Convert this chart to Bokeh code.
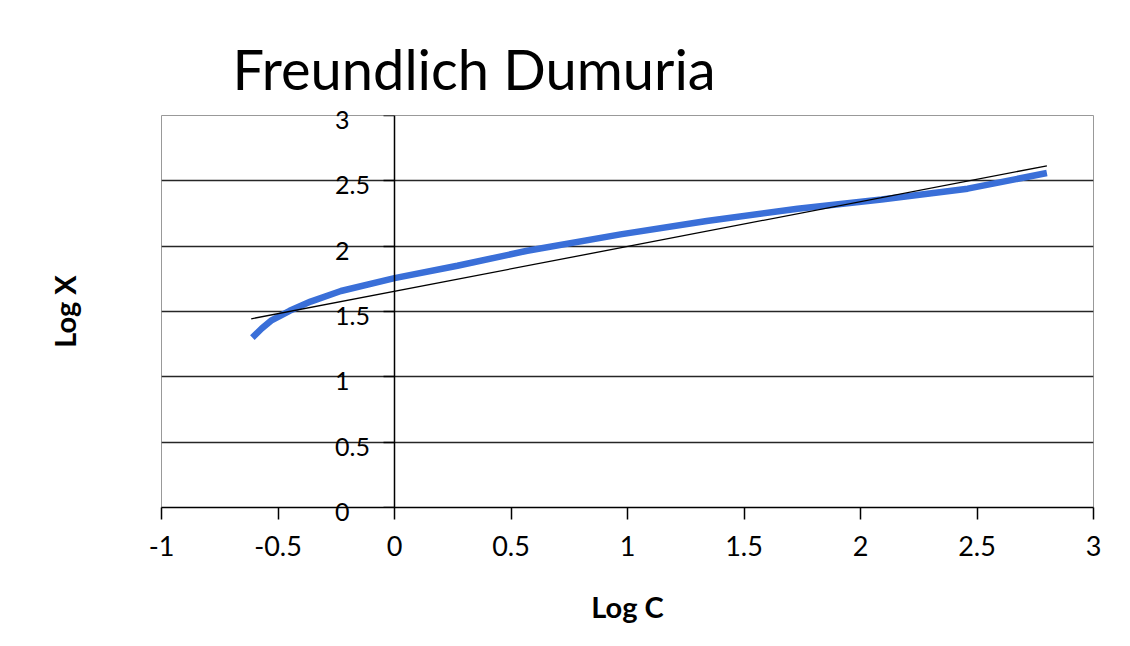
from bokeh.plotting import figure
from bokeh.models import LinearAxis, FixedTicker, Range1d, HTMLLabelSet, ColumnDataSource
from bokeh.core.properties import value
from bokeh.embed import file_html
from bokeh.resources import INLINE

# data
log_c = [-0.61, -0.57, -0.53, -0.45, -0.36, -0.23, 0.0, 0.27, 0.57, 0.97, 1.34, 1.73, 2.09, 2.46, 2.8]
log_x = [1.30, 1.37, 1.43, 1.505, 1.576, 1.657, 1.755, 1.85, 1.965, 2.09, 2.192, 2.287, 2.357, 2.44, 2.56]
trend_c = [-0.615, 2.8]
trend_x = [1.444, 2.615]
x_ticks = [-1, -0.5, 0, 0.5, 1, 1.5, 2, 2.5, 3]
x_tick_labels = ["-1", "-0.5", "0", "0.5", "1", "1.5", "2", "2.5", "3"]
y_ticks = [0, 0.5, 1, 1.5, 2, 2.5, 3]
y_tick_labels = ["0", "0.5", "1", "1.5", "2", "2.5", "3"]

FONT = "Lato"

p = figure(width=1114, height=630, output_backend="svg", toolbar_location=None,
           x_range=Range1d(-1, 3), y_range=Range1d(0, 3),
           min_border_left=161, min_border_right=21, min_border_top=115, min_border_bottom=123)
p.background_fill_color = "white"
p.border_fill_color = "white"
p.outline_line_color = "#999999"
p.outline_line_width = 1

p.title.text = "Freundlich Dumuria"
p.title.text_font = FONT
p.title.text_font_size = "56px"
p.title.text_font_style = "normal"
p.title.text_color = "black"
p.title.align = "left"
p.title.offset = 71
p.title.standoff = 27

# main left axis: only the title "Log X"
ax = p.left[0]
ax.ticker = FixedTicker(ticks=y_ticks)
ax.axis_line_color = None
ax.major_tick_line_color = None
ax.minor_tick_line_color = None
ax.major_label_text_font_size = "1px"
ax.major_label_text_color = None
ax.axis_label = "Log X"
ax.axis_label_text_font = FONT
ax.axis_label_text_font_size = "29px"
ax.axis_label_text_font_style = "bold"
ax.axis_label_text_color = "black"
ax.axis_label_standoff = 74

# x axis
xa = p.xaxis[0]
xa.ticker = FixedTicker(ticks=x_ticks)
xa.major_label_overrides = {t: l for t, l in zip(x_ticks, x_tick_labels)}
xa.major_tick_out = 12
xa.major_tick_in = 0
xa.minor_tick_line_color = None
xa.axis_line_color = "black"
xa.axis_line_width = 1.5
xa.major_tick_line_width = 1.5
xa.major_label_text_font = FONT
xa.major_label_text_font_size = "27px"
xa.major_label_text_color = "black"
xa.major_label_standoff = 16
xa.axis_label = "Log C"
xa.axis_label_text_font = FONT
xa.axis_label_text_font_size = "29px"
xa.axis_label_text_font_style = "bold"
xa.axis_label_text_color = "black"
xa.axis_label_standoff = 30

# vertical axis drawn at x = 0 (ticks only; labels placed with an HTMLLabelSet)
ya = LinearAxis(fixed_location=0, ticker=FixedTicker(ticks=y_ticks))
ya.major_tick_out = 11
ya.major_tick_in = 0
ya.minor_tick_line_color = None
ya.axis_line_color = "black"
ya.axis_line_width = 1.5
ya.major_tick_line_width = 1.5
ya.major_label_text_font_size = "1px"
ya.major_label_text_color = None
p.add_layout(ya, "left")

p.xgrid.visible = False
p.ygrid.grid_line_color = "black"
p.ygrid.grid_line_width = 1.3
p.ygrid.grid_line_alpha = 0.85

p.line(log_c, log_x, line_color="#3a6fd8", line_width=6.5)
p.line(trend_c, trend_x, line_color="black", line_width=1.3)

ylab_src = ColumnDataSource(dict(x=[0] * len(y_ticks), y=y_ticks, t=y_tick_labels))
p.add_layout(HTMLLabelSet(x="x", y="y", text="t", source=ylab_src,
                          x_offset=-59, y_offset=-4,
                          text_align=value("left"), text_baseline=value("middle"),
                          text_font=value(FONT), text_font_size=value("25px"),
                          text_color=value("black")))

open("out.html", "w").write(file_html(p, INLINE))
